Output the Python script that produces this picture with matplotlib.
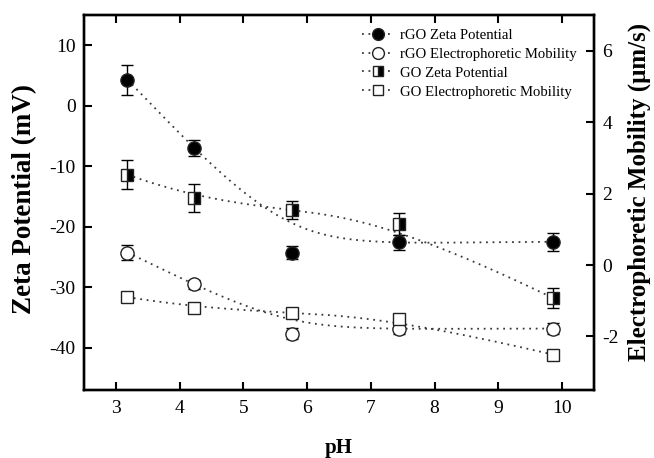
import numpy as np
import matplotlib
matplotlib.use("Agg")
import matplotlib.pyplot as plt
from matplotlib.lines import Line2D

# --- data ---
ph = [3.18, 4.22, 5.76, 7.44, 9.86]

rgo_zeta = [4.3, -7.0, -24.3, -22.6, -22.5]
rgo_zeta_err = [2.5, 1.35, 1.1, 1.2, 1.5]
go_zeta = [-11.4, -15.3, -17.2, -19.5, -31.8]
go_zeta_err = [2.4, 2.3, 1.5, 1.8, 1.6]

rgo_mob = [0.35, -0.54, -1.92, -1.78, -1.78]
rgo_mob_err = [0.2, 0.12, 0.15, 0.15, 0.15]
go_mob = [-0.9, -1.19, -1.34, -1.5, -2.51]
go_mob_err = [0.1, 0.1, 0.08, 0.1, 0.05]

labels = ['rGO Zeta Potential', 'rGO Electrophoretic Mobility',
          'GO Zeta Potential', 'GO Electrophoretic Mobility']

plt.rcParams['font.family'] = ['Liberation Serif', 'DejaVu Serif']
plt.rcParams['axes.unicode_minus'] = False

LINE_COLOR = '#3a3a3a'
DOTS = (0, (1, 2.6))
W, H = 654, 458


def bspline(xs, ys, k=3, n=300):
    """Clamped B-spline using the data points as control points (Origin-style connector)."""
    P = np.column_stack([xs, ys])
    m = len(P)
    knots = np.concatenate([np.zeros(k), np.linspace(0, 1, m - k + 1), np.ones(k)])
    u = np.linspace(0, 1, n)
    nb = len(knots) - 1
    N = np.zeros((n, nb))
    for i in range(nb):
        N[:, i] = (knots[i] <= u) & (u < knots[i + 1])
    last = max(i for i in range(nb) if knots[i] < knots[i + 1])
    N[u >= 1, last] = 1
    for p in range(1, k + 1):
        M = np.zeros((n, nb - p))
        for i in range(nb - p):
            d1 = knots[i + p] - knots[i]
            d2 = knots[i + p + 1] - knots[i + 1]
            if d1 > 0:
                M[:, i] += (u - knots[i]) / d1 * N[:, i]
            if d2 > 0:
                M[:, i] += (knots[i + p + 1] - u) / d2 * N[:, i + 1]
        N = M
    C = N @ P
    return C[:, 0], C[:, 1]


fig = plt.figure(figsize=(W / 100, H / 100), dpi=100)
ax = fig.add_axes([84 / W, 68 / H, 510 / W, 375 / H])
ax2 = ax.twinx()


def draw(axis, ys, err, marker, face, alt=None, fill='full', ms=9):
    cx, cy = bspline(ph, ys)
    axis.plot(cx, cy, linestyle=DOTS, color=LINE_COLOR, lw=1.3, zorder=1)
    axis.errorbar(ph, ys, yerr=err, fmt='none', ecolor='black', elinewidth=1.0,
                  capsize=4, capthick=1.0, zorder=2)
    kw = dict(linestyle='none', marker=marker, markersize=ms, markerfacecolor=face,
              markeredgecolor='#222222', markeredgewidth=1.0, fillstyle=fill, zorder=3)
    if alt is not None:
        kw['markerfacecoloralt'] = alt
    axis.plot(ph, ys, **kw)


draw(ax, rgo_zeta, rgo_zeta_err, 'o', 'black', ms=9.5)
draw(ax, go_zeta, go_zeta_err, 's', 'black', alt='white', fill='right', ms=8.5)
draw(ax2, rgo_mob, rgo_mob_err, 'o', 'white', ms=9.5)
draw(ax2, go_mob, go_mob_err, 's', 'white', ms=8.5)

# legend
hkw = dict(linestyle=DOTS, color=LINE_COLOR, lw=1.3, markeredgecolor='#222222', markeredgewidth=1.0)
handles = [
    Line2D([], [], marker='o', markersize=8.5, markerfacecolor='black', **hkw),
    Line2D([], [], marker='o', markersize=8.5, markerfacecolor='white', **hkw),
    Line2D([], [], marker='s', markersize=7.5, markerfacecolor='black', markerfacecoloralt='white',
           fillstyle='right', **hkw),
    Line2D([], [], marker='s', markersize=7.5, markerfacecolor='white', **hkw),
]
fig.legend(handles, labels, loc='upper left', bbox_to_anchor=(362 / W, 1 - 28.5 / H),
           frameon=False, fontsize=10.6, handlelength=2.2, handletextpad=0.4,
           labelspacing=0.38, borderpad=0, borderaxespad=0)

ax.set_xlim(2.5, 10.5)
ax.set_ylim(-47, 15)
ax2.set_ylim(-3.5, 7)
ax.set_xticks(range(3, 11))
ax.set_yticks([10, 0, -10, -20, -30, -40])
ax2.set_yticks([6, 4, 2, 0, -2])

ax.tick_params(axis='both', direction='in', length=6, width=1.5, labelsize=14, pad=6,
               top=True, right=False)
ax.tick_params(axis='x', pad=7)
ax2.tick_params(axis='y', direction='in', length=6, width=1.5, labelsize=14, pad=6)
for a in (ax, ax2):
    for s in a.spines.values():
        s.set_linewidth(1.7)

# axis titles
fig.text(339 / W, 1 - 453.5 / H, 'pH', fontsize=15, fontweight='bold', ha='center', va='baseline')
fig.text(24.5 / W, 1 - 199 / H, 'Zeta Potential (mV)', fontsize=19.5, fontweight='bold',
         rotation=90, ha='center', va='center', rotation_mode='anchor')
fig.text(639.5 / W, 1 - 191.5 / H, 'Electrophoretic Mobility (μm/s)', fontsize=18,
         fontweight='bold', rotation=90, ha='center', va='center', rotation_mode='anchor')

fig.savefig('out.png', dpi=100)
